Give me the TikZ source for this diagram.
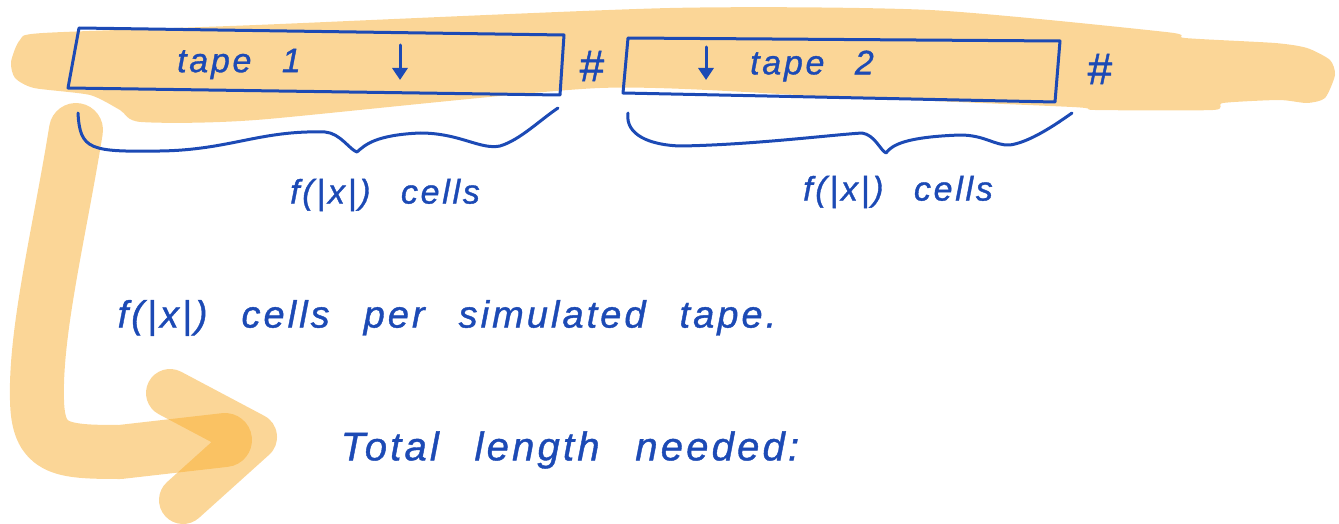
\documentclass[tikz,border=0pt]{standalone}
\usepackage{fontspec}
\setmainfont{Liberation Sans}
\newfontfamily\handfont[LetterSpace=8,WordSpace=2.5,FakeBold=1]{Liberation Sans}
\usetikzlibrary{arrows.meta}
\definecolor{ink}{HTML}{1C4AB5}
\definecolor{hl}{HTML}{F8AE30}
\begin{document}
\begin{tikzpicture}[x=1pt,y=-1pt,
  pen/.style={draw=ink,line width=3pt,line cap=round,line join=round},
  marker/.style={draw=hl,draw opacity=0.5,line cap=round,line join=round},
  hand/.style={text=ink,inner sep=0pt,font=\handfont\itshape\fontsize{#1}{#1}\selectfont},
  tick/.style={pen,-{Triangle[length=12pt,width=15pt]}}]
\useasboundingbox (0,0) rectangle (1339,524);
% highlighter band
\fill[hl,opacity=0.5] plot[smooth cycle,tension=0.4] coordinates {
 (11,62) (20,40) (43,33) (256,25) (670,8) (930,10) (1166,32) (1185,38) (1275,43)
 (1307,48) (1330,60) (1335,75) (1325,98) (1307,103) (1279,100) (1223,103) (1213,110)
 (1095,110) (1072,107) (836,97) (600,88) (256,120) (141,122) (120,110) (90,95) (34,88) (15,78)};
% highlighter arrow
\draw[marker,line width=54pt] (76,130) .. controls (60,230) and (35,330) .. (37,400)
  .. controls (38,450) and (60,452) .. (120,452) -- (225,440);
\draw[marker,line width=48pt] (170,393) -- (253,437) -- (183,500);
% tape 1
\draw[pen] (79,28) -- (564,35) -- (560,95) -- (68,88) -- cycle;
\node[hand=34] (t1) at (239,64) {tape 1};
\coordinate (a1s) at (400,45); \coordinate (a1e) at (400,80);
\draw[tick] (a1s) -- (a1e);
\node[hand=44] (h1) at (592,66) {\upshape\#};
% tape 2
\draw[pen] (628,38) -- (1060,41) -- (1055,102) -- (623,93) -- cycle;
\coordinate (a2s) at (706,47); \coordinate (a2e) at (706,80);
\draw[tick] (a2s) -- (a2e);
\node[hand=34] (t2) at (812,66) {tape 2};
\node[hand=44] (h2) at (1100,69) {\upshape\#};
% braces
\draw[pen] (78,113) .. controls (80,150) and (90,152) .. (160,151)
  .. controls (230,150) and (260,130) .. (325,132)
  .. controls (340,133) and (350,150) .. (357,152)
  .. controls (365,145) and (375,135) .. (420,133)
  .. controls (460,133) and (480,150) .. (500,146)
  .. controls (520,140) and (540,120) .. (558,108);
\draw[pen] (628,113) .. controls (625,135) and (650,145) .. (680,146)
  .. controls (750,145) and (830,135) .. (862,133)
  .. controls (875,135) and (880,150) .. (886,153)
  .. controls (892,145) and (905,137) .. (960,135)
  .. controls (985,135) and (995,146) .. (1010,145)
  .. controls (1030,142) and (1055,125) .. (1072,113);
\node[hand=34] (c1) at (385,195) {f(|x|) cells};
\node[hand=34] (c2) at (898,192) {f(|x|) cells};
\node[hand=38] (per) at (447,318) {f(|x|) cells per simulated tape.};
\node[hand=40] (tot) at (570,450) {Total length needed:};
\end{tikzpicture}
\end{document}
